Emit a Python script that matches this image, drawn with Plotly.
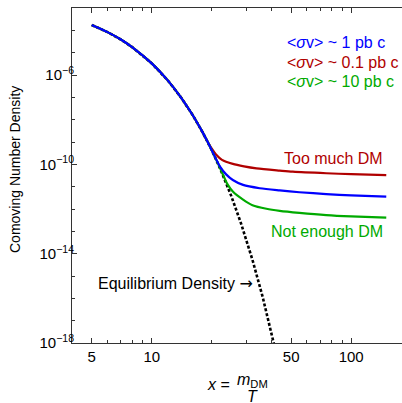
import plotly.graph_objects as go

# ---- data ----
x_common = [5, 6, 7, 8, 10, 12, 14, 16, 18, 19]
logy_common = [-3.76, -4.08, -4.41, -4.76, -5.48, -6.23, -7.00, -7.78, -8.57, -8.97]

x_blue = [20, 21, 22, 23.6, 25.5, 28.7, 34.8, 43.8, 55, 75, 100, 150]
logy_blue = [-9.37, -9.76, -10.10, -10.45, -10.70, -10.92, -11.07, -11.17, -11.25, -11.33, -11.39, -11.45]

x_red = [20, 21, 22.5, 25.5, 29, 33.5, 43.8, 51, 75, 100, 150]
logy_red = [-9.30, -9.56, -9.80, -9.98, -10.09, -10.18, -10.28, -10.33, -10.40, -10.44, -10.48]

x_green = [20, 21, 22, 23, 24, 25.5, 28.7, 32, 37.6, 43.8, 55, 75, 100, 150]
logy_green = [-9.37, -9.77, -10.17, -10.55, -10.90, -11.22, -11.58, -11.83, -11.99, -12.08, -12.17, -12.27, -12.33, -12.39]

x_eq = [5, 6, 7, 8, 10, 12, 14, 16, 18, 20, 22, 25, 28, 32, 36, 40, 42]
logy_eq = [-3.76, -4.08, -4.41, -4.76, -5.48, -6.23, -7.00, -7.78, -8.57, -9.37, -10.18,
           -11.40, -12.63, -14.28, -15.94, -17.61, -18.44]

x_ticks = [5, 10, 50, 100]
x_minor = [4, 6, 7, 8, 9, 20, 30, 40, 60, 70, 80, 90]
y_exps = [-6, -10, -14, -18]
y_minor_exps = list(range(-18, -2))

legend_lines = [("&lt;<i>σ</i>v&gt; ~ 1 pb c", "#0000FF"),
                ("&lt;<i>σ</i>v&gt; ~ 0.1 pb c", "#B00000"),
                ("&lt;<i>σ</i>v&gt; ~ 10 pb c", "#00AA00")]

# ---- layout geometry ----
W, H = 402, 403
L, R, T, B = 72, 0, 8, 403 - 343
pw, ph = W - L - R, H - T - B


def px(xp):  # page pixel -> paper x
    return (xp - L) / pw


def py(yp):  # page pixel -> paper y
    return (H - B - yp) / ph


def pw10(v):
    return [10 ** e for e in v]


font = "Liberation Sans, Arial, sans-serif"
spl = dict(shape="spline", smoothing=0.8)

fig = go.Figure()
fig.add_trace(go.Scatter(x=x_eq, y=pw10(logy_eq), mode="lines",
                         line=dict(color="black", width=2.6, dash="3px,2px"),
                         hoverinfo="skip"))
fig.add_trace(go.Scatter(x=x_common + x_red, y=pw10(logy_common + logy_red), mode="lines",
                         line=dict(color="#B00000", width=2.2, **spl)))
fig.add_trace(go.Scatter(x=x_common + x_green, y=pw10(logy_common + logy_green), mode="lines",
                         line=dict(color="#00AA00", width=2.2, **spl)))
fig.add_trace(go.Scatter(x=x_common + x_blue, y=pw10(logy_common + logy_blue), mode="lines",
                         line=dict(color="#0000FF", width=2.2, **spl)))

axis_common = dict(showgrid=False, zeroline=False, showline=True, linecolor="#333",
                   linewidth=1, ticks="inside", tickcolor="#333", ticklen=5,
                   tickfont=dict(family=font, size=15, color="black"))

fig.update_xaxes(type="log", range=[0.6, 2.255], tickmode="array", tickvals=x_ticks,
                 ticktext=[str(v) for v in x_ticks], mirror="ticks",
                 minor=dict(tickmode="array", tickvals=x_minor, ticks="inside",
                            ticklen=3, tickcolor="#333"),
                 **axis_common)
fig.update_yaxes(type="log", range=[-18, -3], tickmode="array",
                 tickvals=[10 ** e for e in y_exps],
                 ticktext=["10<sup>−%d</sup>" % (-e) for e in y_exps],
                 ticklabelstandoff=-6,
                 minor=dict(tickmode="array", tickvals=[10 ** e for e in y_minor_exps],
                            ticks="inside", ticklen=3, tickcolor="#333"),
                 **axis_common)

ann = []
for i, (t, c) in enumerate(legend_lines):
    ann.append(dict(x=px(285), y=py(43 + 19.5 * i), text=t, xanchor="left", color=c))
ann += [
    dict(x=px(385), y=py(158), text="Too much DM", xanchor="right", color="#B00000"),
    dict(x=px(385), y=py(231), text="Not enough DM", xanchor="right", color="#00AA00"),
    dict(x=px(96), y=py(283),
         text="Equilibrium Density <span style=\"font-family:DejaVu Sans\">→</span>",
         xanchor="left", color="black"),
    dict(x=px(218), y=py(384), text="<i>x</i> =", xanchor="center", color="black"),
    dict(x=px(252), y=py(380), text="<i>m</i><sub>DM</sub>", xanchor="center", color="black"),
    dict(x=px(252), y=py(396), text="<i>T</i>", xanchor="center", color="black"),
]
annotations = []
for a in ann:
    c = a.pop("color")
    a.update(showarrow=False, yanchor="middle", xref="paper", yref="paper",
             font=dict(family=font, size=16, color=c))
    annotations.append(a)
annotations.append(dict(x=px(15), y=py(170), text="Comoving Number Density", textangle=-90,
                        showarrow=False, xanchor="center", yanchor="middle",
                        xref="paper", yref="paper",
                        font=dict(family=font, size=14, color="black")))

fig.update_layout(width=W, height=H, margin=dict(l=L, r=R, t=T, b=B, autoexpand=False),
                  plot_bgcolor="white", paper_bgcolor="white", showlegend=False,
                  hovermode=False,
                  annotations=annotations, font=dict(family=font, size=14, color="black"))

fig.write_html("out.html", config={"displayModeBar": False, "staticPlot": True},
               post_script="document.body.style.margin='0px';"
                           "document.body.style.overflow='hidden';"
                           "document.documentElement.style.overflow='hidden';")
